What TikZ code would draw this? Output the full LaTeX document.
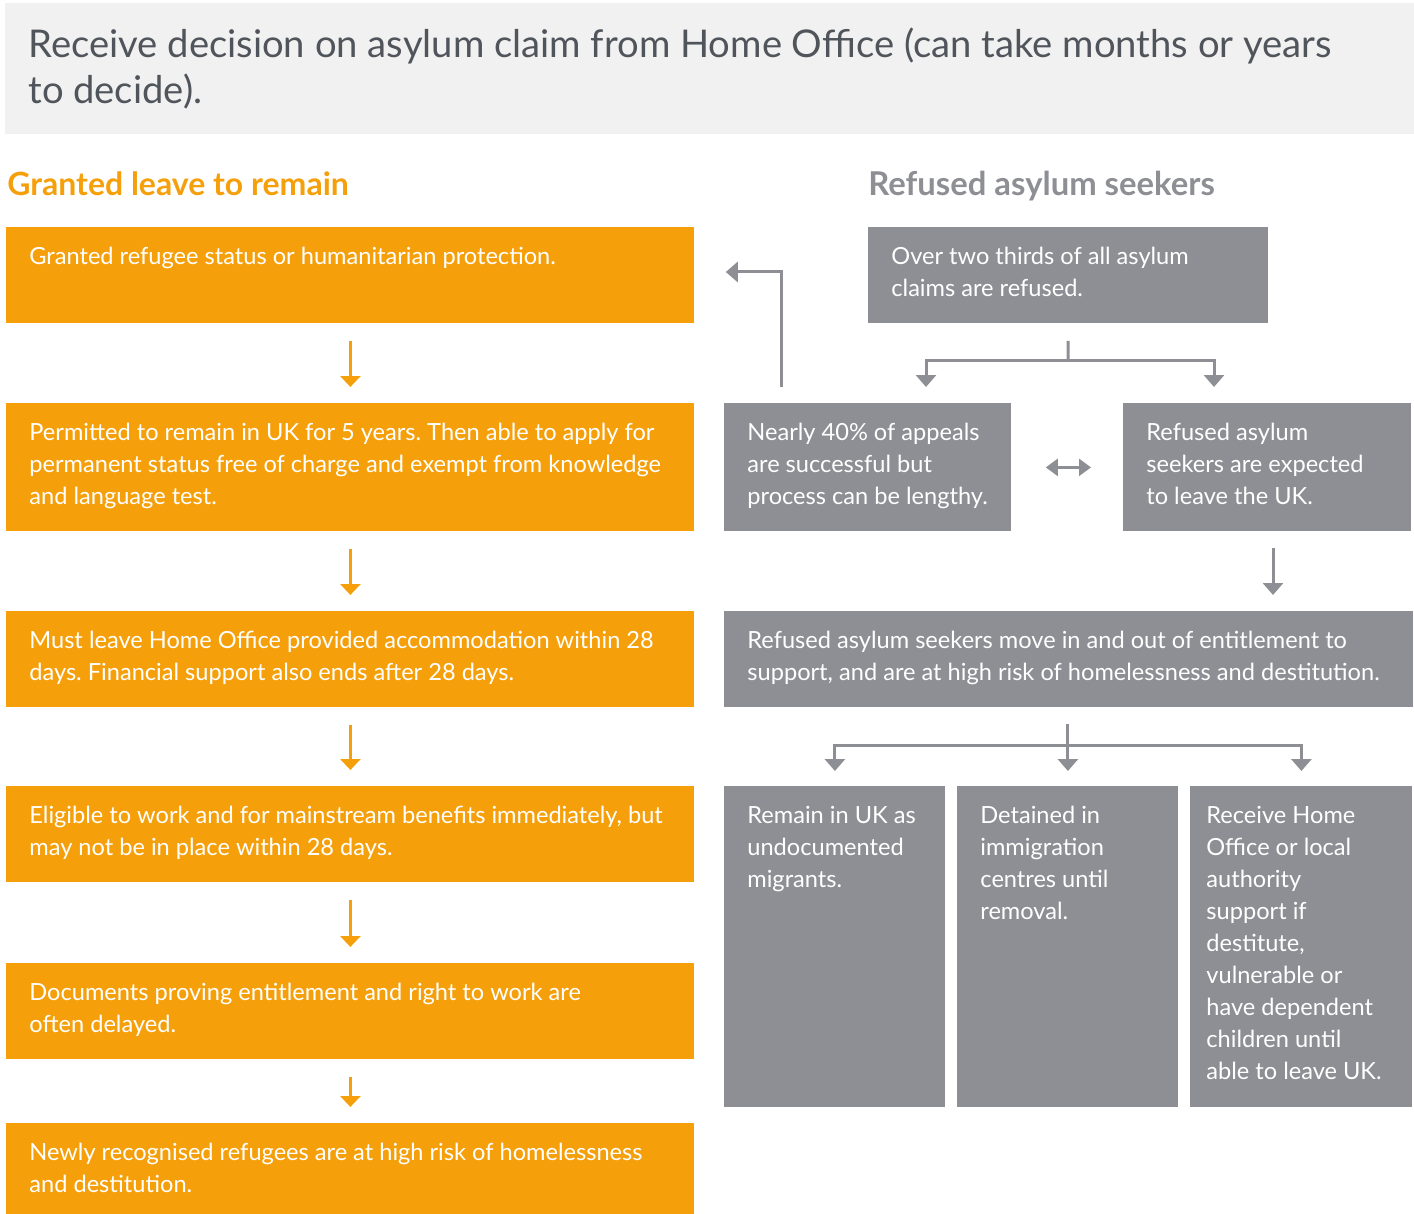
\documentclass[tikz,border=0pt]{standalone}
\usepackage{fontspec}
\setmainfont{Lato}
\usetikzlibrary{arrows.meta,calc}
\definecolor{orangeC}{HTML}{F5A00A}
\definecolor{greyC}{HTML}{8E8F94}
\definecolor{bannerC}{HTML}{F1F1F1}
\definecolor{titleC}{HTML}{50545B}
\tikzset{
  obox/.style={fill=orangeC, draw=none, inner sep=0pt, anchor=north west},
  gbox/.style={fill=greyC, draw=none, inner sep=0pt, anchor=north west},
  btxt/.style={anchor=north west, inner sep=0pt, align=left, text=white,
    font=\fontsize{11.8}{16}\selectfont, xshift=11.5pt},
  oarrow/.style={draw=orangeC, line width=1.5pt, -{Triangle[width=10pt,length=5.5pt]}},
  garrow/.style={draw=greyC, line width=1.5pt, -{Triangle[width=10pt,length=6pt]}},
  gline/.style={draw=greyC, line width=1.5pt},
  gdouble/.style={draw=greyC, line width=1.2pt, {Triangle[width=8.5pt,length=6pt]}-{Triangle[width=8.5pt,length=6pt]}},
}
\newcommand\fr{\rule{0pt}{18.5pt}}
\frenchspacing
\begin{document}
\begin{tikzpicture}[x=0.5pt,y=-0.5pt]
\useasboundingbox (0,0) rectangle (1414,1214);
% banner
\node[anchor=north west, fill=bannerC, inner sep=0pt, minimum width=704.5pt, minimum height=65.5pt] (banner) at (5,3) {};
\node[anchor=north west, inner sep=0pt, align=left, text=titleC, font=\fontsize{19.1}{23}\selectfont] (title) at (28,13)
  {\rule{0pt}{22pt}Receive decision on asylum claim from Home Office (can take months or years\\to decide).};
% headings
\node[anchor=base west, inner sep=0pt, text=orangeC, font=\fontsize{16}{18}\selectfont\bfseries] (hl) at (7,196) {Granted leave to remain};
\node[anchor=base west, inner sep=0pt, text=greyC, font=\fontsize{16.4}{18}\selectfont\bfseries] (hr) at (868,196) {Refused asylum seekers};
% left boxes
\node[obox, minimum width=344pt, minimum height=48pt] (b1) at (6,227) {};
\node[obox, minimum width=344pt, minimum height=64pt] (b2) at (6,403) {};
\node[obox, minimum width=344pt, minimum height=48pt] (b3) at (6,611) {};
\node[obox, minimum width=344pt, minimum height=48pt] (b4) at (6,786) {};
\node[obox, minimum width=344pt, minimum height=48pt] (b5) at (6,963) {};
\node[obox, minimum width=344pt, minimum height=45.5pt] (b6) at (6,1123) {};
\node[btxt] (t1) at (b1.north west) {\fr Granted refugee status or humanitarian protection.};
\node[btxt] (t2) at (b2.north west) {\fr Permitted to remain in UK for 5 years. Then able to apply for\\permanent status free of charge and exempt from knowledge\\and language test.};
\node[btxt] (t3) at (b3.north west) {\fr Must leave Home Office provided accommodation within 28\\days. Financial support also ends after 28 days.};
\node[btxt] (t4) at (b4.north west) {\fr Eligible to work and for mainstream benefits immediately, but\\may not be in place within 28 days.};
\node[btxt] (t5) at (b5.north west) {\fr Documents proving entitlement and right to work are\\often delayed.};
\node[btxt] (t6) at (b6.north west) {\fr Newly recognised refugees are at high risk of homelessness\\and destitution.};
% right boxes
\node[gbox, minimum width=200pt, minimum height=48pt] (r1) at (868,227) {};
\node[gbox, minimum width=143.5pt, minimum height=64pt] (r2a) at (724,403) {};
\node[gbox, minimum width=144pt, minimum height=64pt] (r2b) at (1123,403) {};
\node[gbox, minimum width=344.5pt, minimum height=48pt] (r3) at (724,611) {};
\node[gbox, minimum width=110.5pt, minimum height=160.5pt] (r4a) at (724,786) {};
\node[gbox, minimum width=110.5pt, minimum height=160.5pt] (r4b) at (957,786) {};
\node[gbox, minimum width=111pt, minimum height=160.5pt] (r4c) at (1190,786) {};
\node[btxt] (s1) at (r1.north west) {\fr Over two thirds of all asylum\\claims are refused.};
\node[btxt] (s2a) at (r2a.north west) {\fr Nearly 40\% of appeals\\are successful but\\process can be lengthy.};
\node[btxt] (s2b) at (r2b.north west) {\fr Refused asylum\\seekers are expected\\to leave the UK.};
\node[btxt] (s3) at (r3.north west) {\fr Refused asylum seekers move in and out of entitlement to\\support, and are at high risk of homelessness and destitution.};
\node[btxt] (s4a) at (r4a.north west) {\fr Remain in UK as\\undocumented\\migrants.};
\node[btxt] (s4b) at (r4b.north west) {\fr Detained in\\immigration\\centres until\\removal.};
\node[btxt, xshift=-3.5pt] (s4c) at (r4c.north west) {\fr Receive Home\\Office or local\\authority\\support if\\destitute,\\vulnerable or\\have dependent\\children until\\able to leave UK.};
% left arrows
\foreach \a/\b in {b1/b2,b2/b3,b3/b4,b4/b5,b5/b6}
  \draw[oarrow, shorten <=8.5pt, shorten >=8pt] (\a.south) -- (\b.north);
% right connectors
\coordinate (f1) at (1068,361);
\coordinate (fl) at (926,361);
\coordinate (fr) at (1214,361);
\draw[gline, shorten <=8.5pt] (r1.south) -- (f1);
\draw[garrow, shorten >=8pt] (f1) -| (fl |- r2a.north);
\draw[garrow, shorten >=8pt] (f1) -| (fr |- r2b.north);
\coordinate (ret) at (781,272);
\draw[garrow, shorten <=8pt, shorten >=15.5pt] (ret |- r2a.north) |- (b1.east |- ret);
\draw[gdouble, shorten <=17pt, shorten >=16pt] (r2a.east) -- (r2b.west);
\coordinate (ax) at (1273,547);
\draw[garrow, shorten <=8pt, shorten >=8pt] (r2b.south -| ax) -- (r3.north -| ax);
\coordinate (g) at (1068,745);
\draw[garrow, shorten <=8pt, shorten >=7.5pt] (r3.south -| r4b.north) -- (r4b.north);
\draw[garrow, shorten >=7.5pt] (g) -| (r4a.north);
\draw[garrow, shorten >=7.5pt] (g) -| (r4c.north);
\end{tikzpicture}
\end{document}
